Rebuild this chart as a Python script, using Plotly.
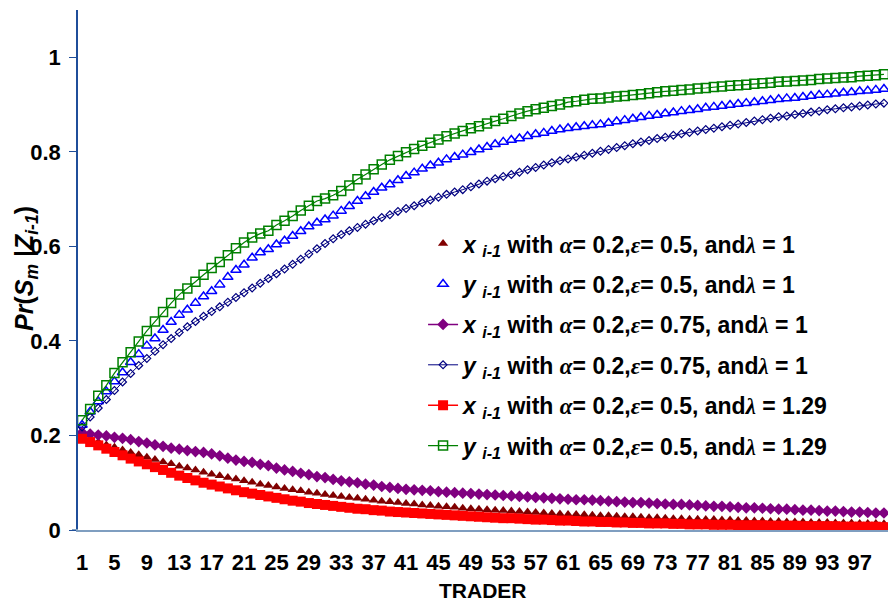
import plotly.graph_objects as go

traders = list(range(1, 101))
tick_vals = list(range(1, 98, 4))
tick_text = [str(v) for v in tick_vals]

x_eps05_lam1 = [
    0.197, 0.191, 0.186, 0.180, 0.175, 0.169, 0.164, 0.159, 0.154, 0.149,
    0.144, 0.140, 0.135, 0.131, 0.127, 0.122, 0.118, 0.115, 0.111, 0.108,
    0.104, 0.101, 0.097, 0.094, 0.091, 0.088, 0.085, 0.083, 0.080, 0.078,
    0.075, 0.073, 0.071, 0.069, 0.067, 0.065, 0.063, 0.061, 0.060, 0.058,
    0.056, 0.055, 0.053, 0.052, 0.050, 0.049, 0.048, 0.046, 0.045, 0.044,
    0.043, 0.042, 0.041, 0.040, 0.039, 0.038, 0.037, 0.036, 0.035, 0.034,
    0.033, 0.033, 0.032, 0.031, 0.030, 0.030, 0.029, 0.028, 0.028, 0.027,
    0.026, 0.026, 0.025, 0.024, 0.024, 0.023, 0.023, 0.022, 0.022, 0.021,
    0.021, 0.020, 0.020, 0.019, 0.019, 0.018, 0.018, 0.017, 0.017, 0.017,
    0.016, 0.016, 0.016, 0.015, 0.015, 0.015, 0.014, 0.014, 0.014, 0.013]

y_eps05_lam1 = [
    0.222, 0.250, 0.272, 0.293, 0.314, 0.333, 0.355, 0.372, 0.390, 0.405,
    0.423, 0.440, 0.455, 0.466, 0.480, 0.494, 0.505, 0.519, 0.535, 0.550,
    0.561, 0.576, 0.587, 0.594, 0.604, 0.612, 0.622, 0.632, 0.642, 0.650,
    0.657, 0.665, 0.675, 0.685, 0.696, 0.706, 0.715, 0.724, 0.731, 0.740,
    0.749, 0.756, 0.764, 0.771, 0.777, 0.784, 0.789, 0.794, 0.799, 0.805,
    0.810, 0.816, 0.821, 0.825, 0.828, 0.833, 0.837, 0.840, 0.844, 0.847,
    0.850, 0.852, 0.854, 0.856, 0.858, 0.861, 0.864, 0.867, 0.870, 0.873,
    0.876, 0.878, 0.881, 0.883, 0.886, 0.888, 0.890, 0.893, 0.895, 0.897,
    0.899, 0.901, 0.903, 0.905, 0.907, 0.909, 0.911, 0.913, 0.914, 0.916,
    0.918, 0.920, 0.921, 0.923, 0.925, 0.926, 0.928, 0.929, 0.931, 0.933]

x_eps075_lam1 = [
    0.206, 0.203, 0.201, 0.199, 0.196, 0.194, 0.191, 0.187, 0.184, 0.180,
    0.177, 0.173, 0.171, 0.168, 0.166, 0.164, 0.161, 0.157, 0.152, 0.148,
    0.145, 0.143, 0.139, 0.136, 0.131, 0.127, 0.124, 0.120, 0.117, 0.113,
    0.111, 0.107, 0.104, 0.102, 0.100, 0.097, 0.095, 0.092, 0.090, 0.088,
    0.086, 0.085, 0.084, 0.083, 0.081, 0.080, 0.079, 0.078, 0.077, 0.076,
    0.075, 0.074, 0.073, 0.072, 0.071, 0.070, 0.069, 0.068, 0.067, 0.066,
    0.065, 0.064, 0.064, 0.063, 0.062, 0.061, 0.060, 0.059, 0.058, 0.058,
    0.057, 0.056, 0.055, 0.054, 0.054, 0.053, 0.052, 0.051, 0.050, 0.050,
    0.049, 0.048, 0.047, 0.047, 0.046, 0.045, 0.044, 0.044, 0.043, 0.042,
    0.042, 0.041, 0.040, 0.040, 0.039, 0.038, 0.038, 0.037, 0.036, 0.036]

y_eps075_lam1 = [
    0.218, 0.239, 0.258, 0.276, 0.295, 0.313, 0.331, 0.348, 0.363, 0.378,
    0.392, 0.405, 0.418, 0.430, 0.441, 0.452, 0.462, 0.472, 0.482, 0.492,
    0.502, 0.512, 0.522, 0.532, 0.542, 0.552, 0.562, 0.573, 0.584, 0.595,
    0.606, 0.616, 0.625, 0.633, 0.640, 0.647, 0.654, 0.661, 0.667, 0.674,
    0.680, 0.686, 0.692, 0.698, 0.704, 0.710, 0.715, 0.720, 0.726, 0.732,
    0.738, 0.743, 0.748, 0.752, 0.757, 0.762, 0.767, 0.772, 0.777, 0.781,
    0.785, 0.789, 0.793, 0.797, 0.801, 0.805, 0.809, 0.813, 0.817, 0.821,
    0.824, 0.828, 0.831, 0.835, 0.838, 0.841, 0.844, 0.847, 0.850, 0.853,
    0.856, 0.859, 0.862, 0.865, 0.868, 0.871, 0.874, 0.876, 0.879, 0.881,
    0.884, 0.886, 0.889, 0.891, 0.893, 0.895, 0.897, 0.899, 0.901, 0.903]

x_eps05_lam129 = [
    0.193, 0.186, 0.179, 0.172, 0.165, 0.158, 0.151, 0.145, 0.139, 0.133,
    0.127, 0.121, 0.115, 0.110, 0.105, 0.100, 0.096, 0.092, 0.088, 0.084,
    0.080, 0.077, 0.074, 0.071, 0.068, 0.065, 0.062, 0.060, 0.057, 0.055,
    0.053, 0.051, 0.049, 0.047, 0.045, 0.044, 0.042, 0.041, 0.039, 0.038,
    0.037, 0.036, 0.035, 0.034, 0.033, 0.032, 0.031, 0.030, 0.029, 0.028,
    0.027, 0.026, 0.025, 0.025, 0.024, 0.023, 0.022, 0.022, 0.021, 0.020,
    0.020, 0.019, 0.018, 0.018, 0.017, 0.017, 0.016, 0.016, 0.015, 0.015,
    0.014, 0.014, 0.014, 0.013, 0.013, 0.012, 0.012, 0.012, 0.011, 0.011,
    0.011, 0.010, 0.010, 0.010, 0.010, 0.009, 0.009, 0.009, 0.009, 0.008,
    0.008, 0.008, 0.008, 0.008, 0.007, 0.007, 0.007, 0.007, 0.007, 0.006]

y_eps05_lam129 = [
    0.232, 0.256, 0.284, 0.306, 0.332, 0.355, 0.376, 0.399, 0.421, 0.441,
    0.461, 0.480, 0.498, 0.511, 0.525, 0.540, 0.554, 0.567, 0.581, 0.596,
    0.608, 0.619, 0.627, 0.633, 0.645, 0.654, 0.664, 0.676, 0.686, 0.696,
    0.701, 0.708, 0.717, 0.729, 0.742, 0.752, 0.763, 0.773, 0.783, 0.791,
    0.799, 0.806, 0.813, 0.819, 0.826, 0.833, 0.839, 0.844, 0.850, 0.854,
    0.860, 0.865, 0.870, 0.876, 0.881, 0.886, 0.890, 0.893, 0.897, 0.900,
    0.905, 0.907, 0.910, 0.912, 0.913, 0.915, 0.917, 0.918, 0.920, 0.922,
    0.924, 0.926, 0.928, 0.929, 0.931, 0.932, 0.934, 0.935, 0.937, 0.938,
    0.940, 0.941, 0.942, 0.944, 0.945, 0.946, 0.948, 0.949, 0.950, 0.951,
    0.952, 0.954, 0.955, 0.956, 0.957, 0.958, 0.960, 0.961, 0.962, 0.964]

GREEK = "<span style=\"font-family:'Liberation Serif', serif\"><i>{}</i></span>"


def label(var, eps, lam):
    return (f"<i>{var}</i> <sub><i>i-1</i></sub> with {GREEK.format(chr(945))}= 0.2,"
            f"{GREEK.format(chr(949))}= {eps}, and{GREEK.format(chr(955))} = {lam}")


fig = go.Figure()

fig.add_trace(go.Scatter(
    x=traders, y=x_eps05_lam1, mode="markers", name=label("x", "0.5", "1"),
    legendgroup="g1",
    marker=dict(symbol="triangle-up", size=9, color="#800000")))
fig.add_trace(go.Scatter(
    x=traders, y=y_eps05_lam1, mode="markers", name=label("y", "0.5", "1"),
    legendgroup="g2",
    marker=dict(symbol="triangle-up-open", size=9, color="#0000FF",
                line=dict(width=1.5, color="#0000FF"))))
fig.add_trace(go.Scatter(
    x=traders, y=x_eps075_lam1, mode="lines+markers", name=label("x", "0.75", "1"),
    legendgroup="g3",
    line=dict(color="#800080", width=1.5),
    marker=dict(symbol="diamond", size=9, color="#800080")))
fig.add_trace(go.Scatter(
    x=traders, y=y_eps075_lam1, mode="lines+markers", name=label("y", "0.75", "1"),
    legendgroup="g4",
    line=dict(color="#000080", width=1),
    marker=dict(symbol="diamond-open", size=6, color="#000080",
                line=dict(width=1.2, color="#000080"))))
fig.add_trace(go.Scatter(
    x=traders, y=x_eps05_lam129, mode="lines+markers", name=label("x", "0.5", "1.29"),
    legendgroup="g5",
    line=dict(color="#FF0000", width=1.5),
    marker=dict(symbol="square", size=10, color="#FF0000")))
fig.add_trace(go.Scatter(
    x=traders, y=y_eps05_lam129, mode="lines+markers", name=label("y", "0.5", "1.29"),
    legendgroup="g6",
    line=dict(color="#008000", width=1.2),
    marker=dict(symbol="square-open", size=9, color="#008000",
                line=dict(width=1.5, color="#008000"))))

fig.update_layout(
    width=888, height=603, autosize=False,
    margin=dict(l=78, r=0, t=10, b=73),
    paper_bgcolor="white", plot_bgcolor="white",
    font=dict(family="Liberation Sans, Arial, sans-serif", color="black"),
    showlegend=True,
    legend=dict(
        x=0.426, y=0.592, xanchor="left", yanchor="top",
        bgcolor="rgba(0,0,0,0)", borderwidth=0,
        font=dict(size=23, weight="bold", color="black"),
        traceorder="grouped", tracegroupgap=7.5,
    ),
    xaxis=dict(
        range=[0.5, 100.5], showgrid=False, zeroline=False,
        tickmode="array", tickvals=tick_vals, ticktext=tick_text,
        ticks="", ticklabelstandoff=12,
        tickfont=dict(size=22, weight="bold", color="black"),
        showline=True, linecolor="#7F9EC0", linewidth=2,
    ),
    yaxis=dict(
        range=[0, 1.1], dtick=0.2, tick0=0, showgrid=False, zeroline=False,
        ticks="outside", ticklen=7, tickcolor="#1F4E9A", tickwidth=1,
        ticklabelstandoff=4,
        tickfont=dict(size=22, weight="bold", color="black"),
        showline=True, linecolor="#1F4E9A", linewidth=1.5,
    ),
    shapes=[
        dict(type="line", xref="paper", yref="y",
             x0=(72 - 78) / 810, x1=0, y0=0, y1=0,
             line=dict(color="#7F9EC0", width=2)),
    ],
    annotations=[
        dict(text="<i>Pr</i>(<i>S<sub>m</sub></i> |<i>Z<sub>i-1</sub></i>)",
             textangle=-90, xref="paper", yref="paper",
             x=(26 - 78) / 810, y=(530 - 268) / 520,
             xanchor="center", yanchor="middle", showarrow=False,
             font=dict(size=25, weight="bold", color="black")),
        dict(text="TRADER", xref="paper", yref="paper",
             x=0.5, y=(530 - 590) / 520, xanchor="center", yanchor="middle",
             showarrow=False, font=dict(size=21, weight="bold", color="black")),
    ],
)

fig.write_html("out.html", config={"displayModeBar": False},
               post_script="document.body.style.margin='0';")
